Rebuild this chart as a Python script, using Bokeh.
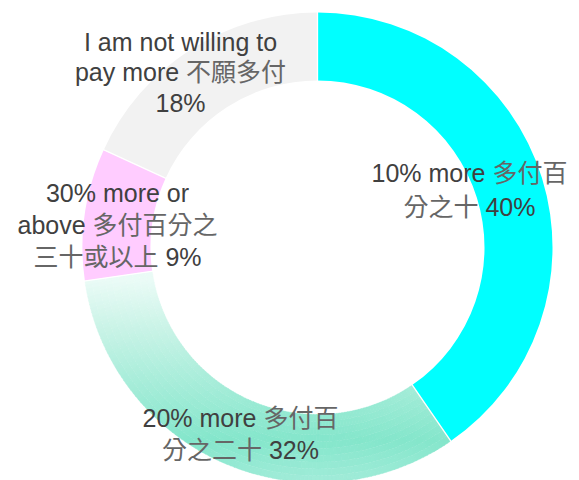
import numpy as np
from bokeh.plotting import figure
from bokeh.models import Range1d, ColumnDataSource
from bokeh.core.properties import value
from bokeh.embed import file_html
from bokeh.resources import INLINE

# ---------------- data ----------------
categories = [
    "10% more 多付百分之十",
    "20% more 多付百分之二十",
    "30% more or above 多付百分之三十或以上",
    "I am not willing to pay more 不願多付",
]
shares = [40, 32, 9, 18]
label_lines = [
    ["10% more 多付百", "分之十 40%"],
    ["20% more 多付百", "分之二十 32%"],
    ["30% more or", "above 多付百分之", "三十或以上 9%"],
    ["I am not willing to", "pay more 不願多付", "18%"],
]

# ---------------- style / layout ----------------
W, H = 579, 480
CX, CY = 317, H - 247
R_OUT, R_IN = 235, 167
solid_colors = ["#00FFFF", None, "#FFCCFF", "#F2F2F2"]
# vertical gradient for the 20% slice: (screen y, colour)
grad_stops = [(280, "#EAFBF6"), (330, "#C8F3E6"), (370, "#AEEEDC"),
              (440, "#84E6CB"), (482, "#A2ECD9")]
# label layout: (center x, first line screen y, line spacing)
label_layout = [(469, 172, 34), (240, 417, 32), (117, 192, 32), (180, 41, 30.5)]
FONT = value("Liberation Sans, Noto Sans CJK TC")
FONT_PX = 25
LATIN_COLOR = "#404040"
CJK_COLOR = "#666666"
# Liberation Sans (Arial-metric) advance widths, per 1000 em
ADV = {" ": 278, "%": 889, "a": 556, "b": 556, "e": 556, "g": 556, "i": 222,
       "l": 222, "m": 833, "n": 556, "o": 556, "p": 556, "r": 333, "t": 278,
       "v": 500, "w": 722, "y": 500, "I": 278}
for d in "0123456789":
    ADV[d] = 556

p = figure(width=W, height=H, x_range=Range1d(0, W), y_range=Range1d(0, H),
           output_backend="svg", toolbar_location=None, min_border=0)
p.axis.visible = False
p.grid.visible = False
p.outline_line_color = None
p.background_fill_color = "white"
p.border_fill_color = "white"

total = float(sum(shares))
cum = np.concatenate([[0.0], np.cumsum(shares) / total])
a_start = np.pi / 2 - 2 * np.pi * cum[:-1]   # clockwise from top
a_end = np.pi / 2 - 2 * np.pi * cum[1:]


def hex2rgb(h):
    h = h.lstrip("#")
    return np.array([int(h[i:i + 2], 16) for i in (0, 2, 4)], dtype=float)


stop_y = np.array([s[0] for s in grad_stops], dtype=float)
stop_c = np.array([hex2rgb(s[1]) for s in grad_stops])


def grad_color(ys):
    rgb = [np.interp(ys, stop_y, stop_c[:, k]) for k in range(3)]
    return "#%02x%02x%02x" % tuple(int(round(v)) for v in rgb)


# solid slices
solid_idx = [i for i, c in enumerate(solid_colors) if c is not None]
p.annular_wedge(x=[CX] * len(solid_idx), y=[CY] * len(solid_idx),
                inner_radius=R_IN, outer_radius=R_OUT,
                start_angle=[a_end[i] for i in solid_idx],
                end_angle=[a_start[i] for i in solid_idx],
                direction="anticlock",
                fill_color=[solid_colors[i] for i in solid_idx],
                line_color=None)

# gradient slice built from small cells
for i, c in enumerate(solid_colors):
    if c is not None:
        continue
    NA, NR = 120, 10
    angs = np.linspace(a_end[i], a_start[i], NA + 1)
    rads = np.linspace(R_IN, R_OUT, NR + 1)
    xs, ys, r0, r1, s0, s1, cols = [], [], [], [], [], [], []
    for ai in range(NA):
        am = 0.5 * (angs[ai] + angs[ai + 1])
        for ri in range(NR):
            rm = 0.5 * (rads[ri] + rads[ri + 1])
            y_screen = H - (CY + rm * np.sin(am))
            xs.append(CX); ys.append(CY)
            r0.append(rads[ri]); r1.append(rads[ri + 1])
            s0.append(angs[ai]); s1.append(angs[ai + 1] + 0.002)
            cols.append(grad_color(y_screen))
    src = ColumnDataSource(dict(x=xs, y=ys, ir=r0, orr=r1, sa=s0, ea=s1, c=cols))
    p.annular_wedge(x="x", y="y", inner_radius="ir", outer_radius="orr",
                    start_angle="sa", end_angle="ea", direction="anticlock",
                    fill_color="c", line_color="c", line_width=0.4, source=src)

# white separators between slices
p.segment(x0=list(CX + (R_IN - 1) * np.cos(a_start)),
          y0=list(CY + (R_IN - 1) * np.sin(a_start)),
          x1=list(CX + (R_OUT + 1) * np.cos(a_start)),
          y1=list(CY + (R_OUT + 1) * np.sin(a_start)),
          line_color="white", line_width=1.3)


# labels: split each line into Latin / CJK runs with their own colour
def is_cjk(ch):
    return ord(ch) >= 0x2E80


def adv(ch):
    return FONT_PX * (1.0 if is_cjk(ch) else ADV.get(ch, 556) / 1000.0)


tx, ty, tt, tc = [], [], [], []
for lines, (lx, ly, ls) in zip(label_lines, label_layout):
    for k, line in enumerate(lines):
        width = sum(adv(ch) for ch in line)
        x = lx - width / 2.0
        runs = []
        for ch in line:
            kind = is_cjk(ch)
            if runs and (ch == " " or runs[-1][0] == kind):
                runs[-1][1] += ch
            else:
                runs.append([kind, ch])
        for kind, run in runs:
            tx.append(x)
            ty.append(H - (ly + k * ls))
            tt.append(run.rstrip(" "))
            tc.append(CJK_COLOR if kind else LATIN_COLOR)
            x += sum(adv(ch) for ch in run)
src_t = ColumnDataSource(dict(x=tx, y=ty, t=tt, c=tc))
p.text(x="x", y="y", text="t", text_color="c", source=src_t,
       text_align="left", text_baseline="middle",
       text_font=FONT, text_font_size=f"{FONT_PX}px")

open("out.html", "w").write(file_html(p, INLINE))
